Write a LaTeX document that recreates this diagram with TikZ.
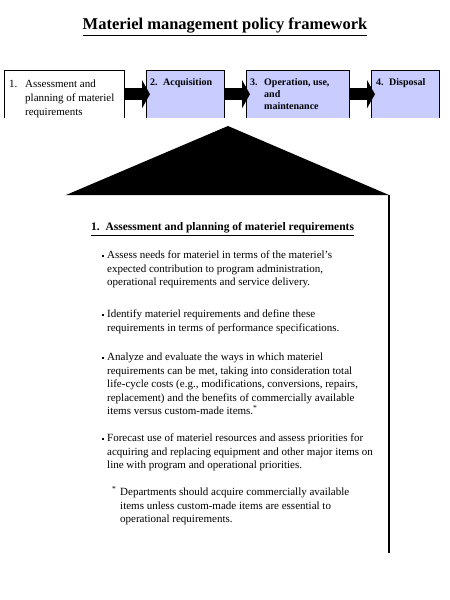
\documentclass[tikz,border=0pt]{standalone}
\usepackage{fontspec}
\setmainfont{Liberation Serif}
\usetikzlibrary{arrows.meta}
\definecolor{stepblue}{RGB}{200,204,255}
\newcommand{\pointmark}{\rule[2pt]{1.8pt}{1.8pt}}
\tikzset{
  stepbox/.style={anchor=north west, minimum height=48pt, inner sep=0pt},
  steptext/.style={anchor=north west, inner sep=0pt, align=left, font=\fontsize{11}{14}\selectfont},
  pointtext/.style={anchor=north west, inner sep=0pt, align=left, font=\fontsize{11}{13.5}\selectfont},
  flowarrow/.style={line width=12pt, -{Triangle[length=8pt,width=28pt]}, shorten >=-4pt},
}
\begin{document}
\begin{tikzpicture}[x=1pt,y=-1pt]
\useasboundingbox (0,0) rectangle (450,600);
\node[font=\bfseries\fontsize{16.5}{18}\selectfont] (title) at (225,27) {\underline{Materiel management policy framework}};
\node[stepbox, minimum width=120pt, fill=white] (s1) at (4,70) {};
\node[stepbox, minimum width=78pt, fill=stepblue] (s2) at (146,70) {};
\node[stepbox, minimum width=103pt, fill=stepblue] (s3) at (246,70) {};
\node[stepbox, minimum width=68pt, fill=stepblue] (s4) at (371,70) {};
\foreach \s in {s1,s2,s3,s4}
  \draw[line width=1pt] (\s.south west) |- (\s.north east) -- (\s.south east);
\node[steptext] (t1) at ([xshift=5pt,yshift=-7pt]s1.north west) {\begin{tabular}{@{}p{16pt}@{}l@{}}1. & Assessment and\\ & planning of materiel\\ & requirements\end{tabular}};
\node[steptext, font=\bfseries] (t2) at ([xshift=4pt,yshift=-7pt]s2.north west) {\begin{tabular}{@{}p{13pt}@{}l@{}}2. & Acquisition\end{tabular}};
\node[steptext, font=\bfseries] (t3) at ([xshift=4pt,yshift=-7pt]s3.north west) {\begin{tabular}{@{}p{14pt}@{}l@{}}3. & Operation, use,\\ & and\\ & maintenance\end{tabular}};
\node[steptext, font=\bfseries] (t4) at ([xshift=5pt,yshift=-7pt]s4.north west) {\begin{tabular}{@{}p{13pt}@{}l@{}}4. & Disposal\end{tabular}};
\draw[flowarrow] (s1.east) -- (s2.west);
\draw[flowarrow] (s2.east) -- (s3.west);
\draw[flowarrow] (s3.east) -- (s4.west);
\coordinate (apex) at (228,126);
\coordinate (baseL) at (66,195);
\coordinate (baseR) at (389,195);
\coordinate (frameEnd) at (389,553);
\fill (apex) -- (baseR) -- (baseL) -- cycle;
\draw[line width=1.5pt] (baseR) -- (frameEnd);
\node[font=\bfseries\fontsize{11.5}{13}\selectfont, anchor=west, inner sep=0pt] (head) at (91,229) {\underline{1.\ \ Assessment and planning of materiel requirements}};
\node[pointtext] (p1) at (102,249) {\begin{tabular}{@{}p{5pt}@{}l@{}}\pointmark & Assess needs for materiel in terms of the materiel's\\ & expected contribution to program administration,\\ & operational requirements and service delivery.\end{tabular}};
\node[pointtext] (p2) at (102,308) {\begin{tabular}{@{}p{5pt}@{}l@{}}\pointmark & Identify materiel requirements and define these\\ & requirements in terms of performance specifications.\end{tabular}};
\node[pointtext] (p3) at (102,351) {\begin{tabular}{@{}p{5pt}@{}l@{}}\pointmark & Analyze and evaluate the ways in which materiel\\ & requirements can be met, taking into consideration total\\ & life-cycle costs (e.g., modifications, conversions, repairs,\\ & replacement) and the benefits of commercially available\\ & items versus custom-made items.\textsuperscript{*}\end{tabular}};
\node[pointtext] (p4) at (102,432) {\begin{tabular}{@{}p{5pt}@{}l@{}}\pointmark & Forecast use of materiel resources and assess priorities for\\ & acquiring and replacing equipment and other major items on\\ & line with program and operational priorities.\end{tabular}};
\node[pointtext] (note) at (112,486) {\begin{tabular}{@{}p{8pt}@{}l@{}}\textsuperscript{*} & Departments should acquire commercially available\\ & items unless custom-made items are essential to\\ & operational requirements.\end{tabular}};
\end{tikzpicture}
\end{document}
